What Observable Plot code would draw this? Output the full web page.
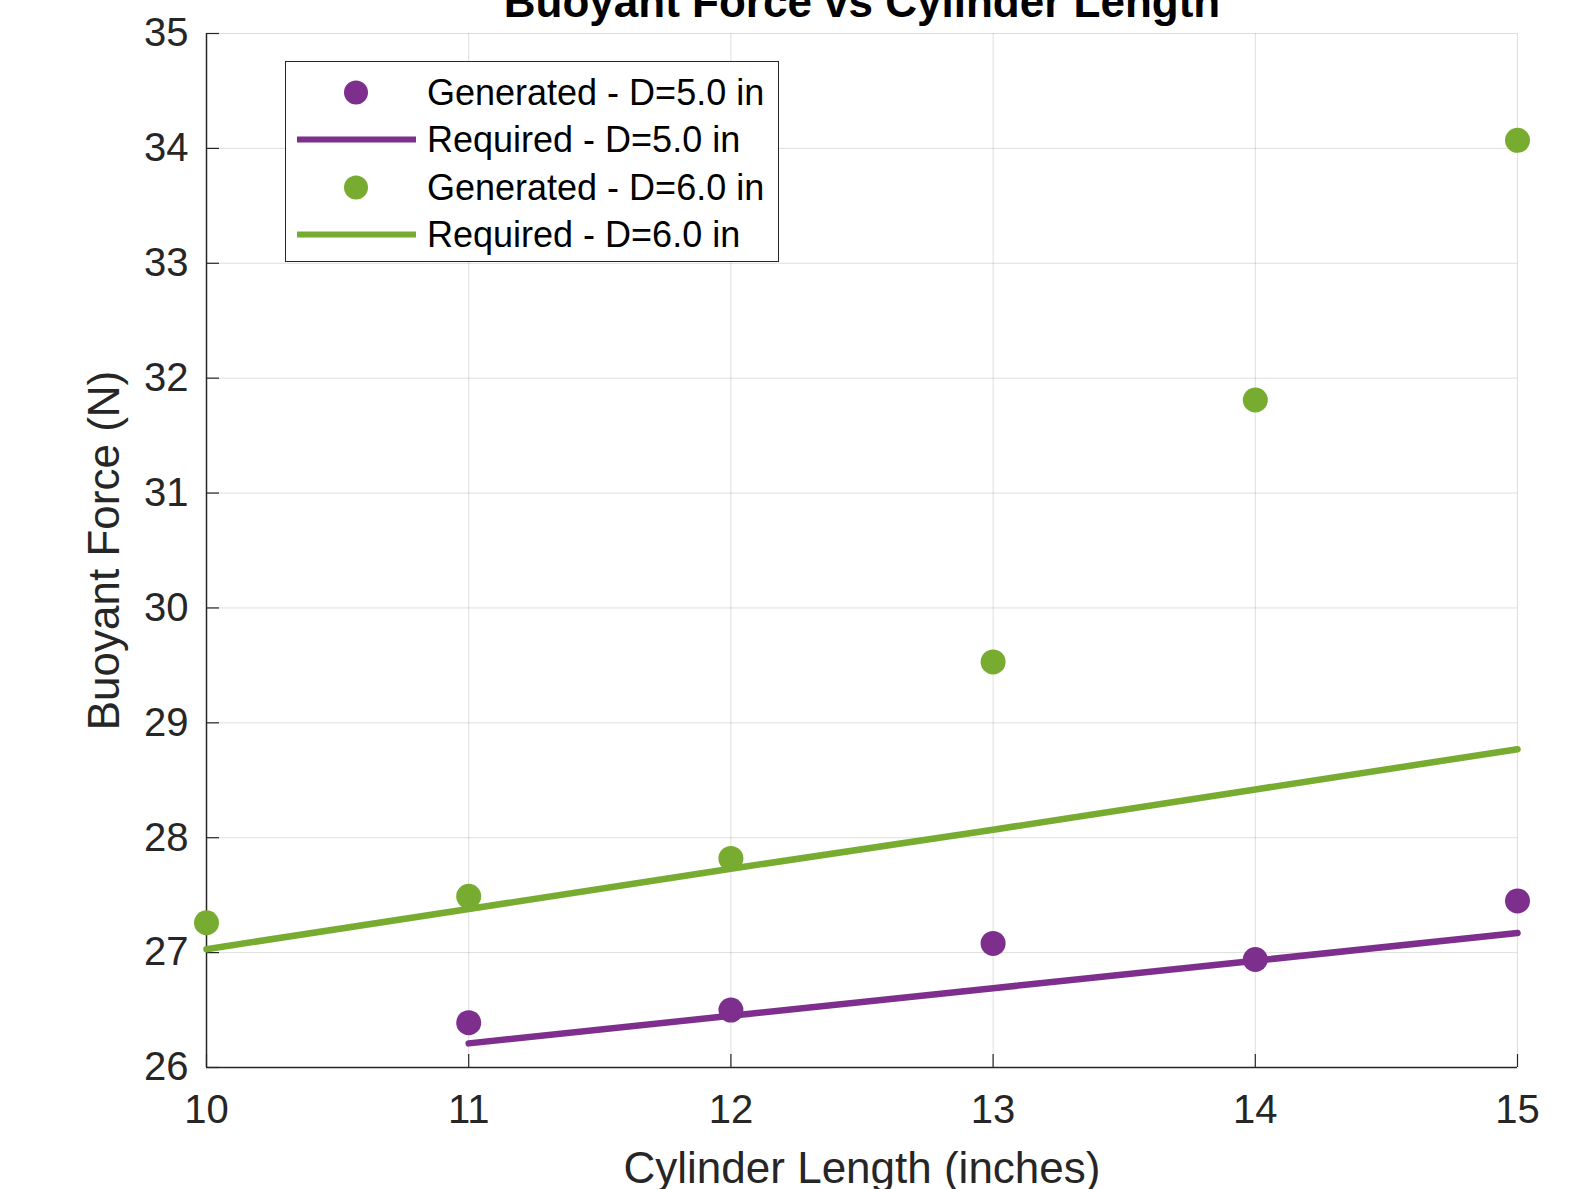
<!DOCTYPE html>
<html><head><meta charset="utf-8">
<script src="https://cdn.jsdelivr.net/npm/d3@7"></script>
<script src="https://cdn.jsdelivr.net/npm/@observablehq/plot@0.6"></script>
<style>
html,body{margin:0;padding:0;background:#fff;overflow:hidden;}
#wrap{position:relative;width:1591px;height:1189px;overflow:hidden;font-family:"Liberation Sans",Arial,sans-serif;}
#legend{position:absolute;left:285px;top:61px;width:494px;height:201px;box-sizing:border-box;border:1.5px solid #262626;background:#fff;}
.lrow{position:absolute;left:0;height:47px;width:100%;}
.lrow svg{position:absolute;left:0;top:0;}
.lrow span{position:absolute;left:141px;top:0;line-height:47px;font-size:36px;color:#000;white-space:nowrap;}
</style></head><body><div id="wrap"></div>
<script>
// ---- data ----
const lengths = [10, 11, 12, 13, 14, 15];
const gen5 = [null, 26.39, 26.50, 27.08, 26.94, 27.45];
const req5 = [null, 26.21, 26.45, 26.69, 26.93, 27.17];
const gen6 = [27.26, 27.49, 27.82, 29.53, 31.81, 34.07];
const req6 = [27.03, 27.38, 27.73, 28.07, 28.42, 28.77];
const xTicks = [10, 11, 12, 13, 14, 15];
const yTicks = [26, 27, 28, 29, 30, 31, 32, 33, 34, 35];
const xDomain = [10, 15];
const yDomain = [26, 35];
const titleText = "Buoyant Force vs Cylinder Length";
const xLabel = "Cylinder Length (inches)";
const yLabel = "Buoyant Force (N)";
const seriesNames = ["Generated - D=5.0 in", "Required - D=5.0 in", "Generated - D=6.0 in", "Required - D=6.0 in"];
const seriesKinds = ["dot", "line", "dot", "line"];
const purple = "#7E2F8E", green = "#77AC30";
const seriesColors = [purple, purple, green, green];

const rows = vals => lengths.map((x, i) => ({x, y: vals[i]})).filter(d => d.y != null);
const FONT = "'Liberation Sans', Arial, Helvetica, sans-serif";
const INK = "#262626";

const chart = Plot.plot({
  width: 1591, height: 1189,
  marginLeft: 206, marginRight: 74, marginTop: 33, marginBottom: 122,
  style: {fontFamily: FONT, background: "white", overflow: "visible"},
  x: {domain: xDomain},
  y: {domain: yDomain},
  marks: [
    Plot.gridX(xTicks, {stroke: "#000", strokeOpacity: 0.13, strokeWidth: 1}),
    Plot.gridY(yTicks, {stroke: "#000", strokeOpacity: 0.13, strokeWidth: 1}),
    Plot.ruleX([xDomain[0]], {stroke: INK, strokeWidth: 1.5}),
    Plot.ruleY([yDomain[0]], {stroke: INK, strokeWidth: 1.5}),
    Plot.axisX(xTicks, {tickSize: -13, tickPadding: 40, fontSize: 40, fill: INK, stroke: INK, strokeWidth: 1.2, label: null, tickFormat: d => String(d)}),
    Plot.axisY(yTicks, {tickSize: -13, tickPadding: 31, fontSize: 40, fill: INK, stroke: INK, strokeWidth: 1.2, label: null, tickFormat: d => String(d)}),
    Plot.dot(rows(gen5), {x: "x", y: "y", r: 12.5, fill: purple, stroke: null}),
    Plot.line(rows(req5), {x: "x", y: "y", stroke: purple, strokeWidth: 6.5}),
    Plot.dot(rows(gen6), {x: "x", y: "y", r: 12.5, fill: green, stroke: null}),
    Plot.line(rows(req6), {x: "x", y: "y", stroke: green, strokeWidth: 6.5}),
    Plot.text([titleText], {text: d => d, frameAnchor: "top", dy: -17, lineAnchor: "bottom", fontSize: 44, fontWeight: "bold", fill: "#000"}),
    Plot.text([xLabel], {text: d => d, frameAnchor: "bottom", dy: 101, lineAnchor: "middle", fontSize: 44, fill: INK}),
    Plot.text([yLabel], {text: d => d, frameAnchor: "left", dx: -102, rotate: -90, textAnchor: "middle", lineAnchor: "middle", fontSize: 44, fill: INK})
  ]
});

const wrap = document.getElementById("wrap");
wrap.appendChild(chart);

// legend
const legend = d3.select(wrap).append("div").attr("id", "legend");
seriesNames.forEach((name, i) => {
  const row = legend.append("div").attr("class", "lrow").style("top", (7 + i * 47.3) + "px");
  const svg = row.append("svg").attr("width", 140).attr("height", 47);
  if (seriesKinds[i] === "dot") {
    svg.append("circle").attr("cx", 70).attr("cy", 23.5).attr("r", 12).attr("fill", seriesColors[i]);
  } else {
    svg.append("line").attr("x1", 11).attr("x2", 130).attr("y1", 23.5).attr("y2", 23.5)
      .attr("stroke", seriesColors[i]).attr("stroke-width", 6);
  }
  row.append("span").text(name);
});
</script></body></html>
